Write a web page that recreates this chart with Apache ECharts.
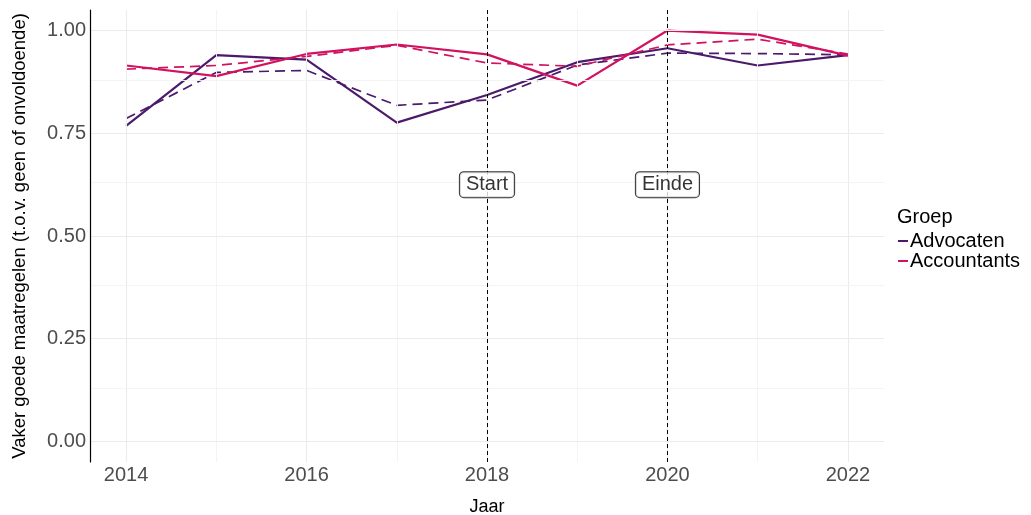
<!DOCTYPE html>
<html>
<head>
<meta charset="utf-8">
<script src="https://cdn.jsdelivr.net/npm/echarts@6/dist/echarts.min.js"></script>
<style>
  html, body { margin: 0; padding: 0; background: #fff; }
  #main { width: 1031px; height: 515px; }
</style>
</head>
<body>
<div id="main"></div>
<script>
// data
var years = [2014, 2015, 2016, 2017, 2018, 2019, 2020, 2021, 2022];
var advocaten       = [0.768, 0.940, 0.929, 0.776, 0.843, 0.923, 0.957, 0.915, 0.940];
var advocatenTrend  = [0.786, 0.898, 0.903, 0.818, 0.831, 0.916, 0.945, 0.944, 0.941];
var accountants      = [0.915, 0.889, 0.943, 0.966, 0.942, 0.866, 1.000, 0.990, 0.939];
var accountantsTrend = [0.906, 0.915, 0.937, 0.964, 0.921, 0.913, 0.965, 0.979, 0.943];

var xTicks = [2014, 2016, 2018, 2020, 2022];
var xMinor = [2015, 2017, 2019, 2021];
var yTicks = [0, 0.25, 0.5, 0.75, 1];
var yMinor = [0.125, 0.375, 0.625, 0.875];

var markers = [2018, 2020];
var markerLabels = ['Start', 'Einde'];
var markerLabelY = 0.625;

var kleurAdv = '#4B1A6B';
var kleurAcc = '#D1125F';
var font = 'Liberation Sans, Arial, sans-serif';

function pairs(xs, ys) {
  return xs.map(function (x, i) { return [x, ys[i]]; });
}

// rasterlijnen (major + minor) als markLines, vanuit de tick-arrays
function gridLine(key, v, minor) {
  var l = { lineStyle: { color: minor ? '#F3F3F3' : '#EBEBEB', width: minor ? 0.9 : 1.1, type: 'solid' } };
  l[key] = v;
  return l;
}

var gridLines = []
  .concat(xTicks.map(function (v) { return gridLine('xAxis', v, false); }))
  .concat(xMinor.map(function (v) { return gridLine('xAxis', v, true); }))
  .concat(yTicks.map(function (v) { return gridLine('yAxis', v, false); }))
  .concat(yMinor.map(function (v) { return gridLine('yAxis', v, true); }));

var myChart = echarts.init(document.getElementById('main'), null, { renderer: 'canvas' });

var option = {
  animation: false,
  backgroundColor: '#fff',
  textStyle: { fontFamily: font },
  title: {
    text: 'Groep',
    left: 892,
    top: 202,
    textStyle: { fontFamily: font, fontSize: 20, fontWeight: 'normal', color: '#000' }
  },
  legend: {
    orient: 'vertical',
    left: 893,
    top: 226,
    itemGap: 0,
    itemWidth: 10,
    itemHeight: 2,
    icon: 'rect',
    textStyle: { fontFamily: font, fontSize: 20, color: '#000', padding: [0, 0, 0, -3] },
    data: [
      { name: 'Advocaten', itemStyle: { color: kleurAdv } },
      { name: 'Accountants', itemStyle: { color: kleurAcc } }
    ]
  },
  grid: { left: 90, right: 147, top: 10, bottom: 53, outerBoundsMode: 'none', containLabel: false },
  xAxis: {
    type: 'value',
    min: 2013.6,
    max: 2022.4,
    name: 'Jaar',
    nameLocation: 'middle',
    nameGap: 36,
    nameTextStyle: { fontFamily: font, fontSize: 18, color: '#000' },
    axisLine: { show: false },
    axisTick: { show: false },
    splitLine: { show: false },
    axisLabel: {
      customValues: xTicks,
      color: '#4D4D4D',
      fontSize: 20,
      margin: 3,
      formatter: function (v) { return String(v); }
    }
  },
  yAxis: {
    type: 'value',
    z: 6,
    min: -0.05,
    max: 1.05,
    name: 'Vaker goede maatregelen (t.o.v. geen of onvoldoende)',
    nameLocation: 'middle',
    nameGap: 61,
    nameTextStyle: { fontFamily: font, fontSize: 18.5, color: '#000' },
    axisLine: { show: true, lineStyle: { color: '#000', width: 1.2, type: 'solid' } },
    axisTick: { show: false },
    splitLine: { show: false },
    axisLabel: {
      customValues: yTicks,
      color: '#4D4D4D',
      fontSize: 20,
      margin: 4,
      formatter: function (v) { return v.toFixed(2); }
    }
  },
  series: [
    {
      name: 'grid',
      type: 'line',
      data: [],
      silent: true,
      z: 0,
      markLine: {
        silent: true,
        symbol: 'none',
        label: { show: false },
        animation: false,
        data: gridLines
      }
    },
    {
      name: 'markers',
      type: 'scatter',
      data: markers.map(function (x, i) { return { value: [x, markerLabelY], name: markerLabels[i] }; }),
      symbolSize: 0,
      silent: true,
      z: 5,
      markLine: {
        silent: true,
        symbol: 'none',
        label: { show: false },
        lineStyle: { color: '#000', width: 1, type: [4, 3] },
        data: markers.map(function (x) { return { xAxis: x }; })
      },
      label: {
        show: true,
        position: 'inside',
        formatter: function (p) { return p.name; },
        fontFamily: font,
        fontSize: 20,
        color: '#000',
        backgroundColor: '#fff',
        borderColor: '#000',
        borderWidth: 1,
        borderRadius: 4,
        padding: [3, 6, 2, 6]
      }
    },
    {
      name: 'Advocaten',
      type: 'line',
      data: pairs(years, advocaten),
      showSymbol: false,
      symbol: 'none',
      z: 3,
      color: kleurAdv,
      lineStyle: { color: kleurAdv, width: 2.2 }
    },
    {
      name: 'Advocaten trend',
      type: 'line',
      data: pairs(years, advocatenTrend),
      showSymbol: false,
      symbol: 'none',
      z: 3,
      lineStyle: { color: kleurAdv, width: 1.7, type: [10, 6] }
    },
    {
      name: 'Accountants',
      type: 'line',
      data: pairs(years, accountants),
      showSymbol: false,
      symbol: 'none',
      z: 3,
      color: kleurAcc,
      lineStyle: { color: kleurAcc, width: 2.2 }
    },
    {
      name: 'Accountants trend',
      type: 'line',
      data: pairs(years, accountantsTrend),
      showSymbol: false,
      symbol: 'none',
      z: 3,
      lineStyle: { color: kleurAcc, width: 1.7, type: [10, 6] }
    }
  ]
};

myChart.setOption(option);
</script>
</body>
</html>
